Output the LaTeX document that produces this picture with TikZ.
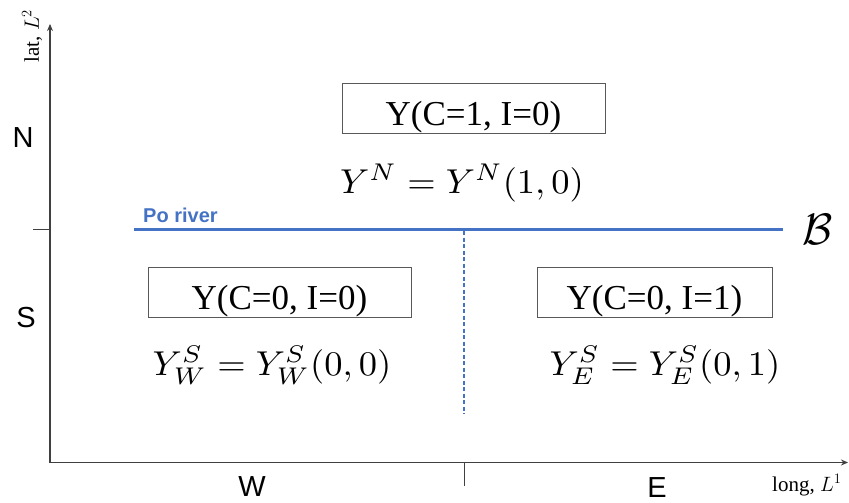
\documentclass[tikz,border=0pt]{standalone}
\usepackage{fontspec}
\newfontfamily\timesf{Liberation Serif}
\newfontfamily\arialf{Liberation Sans}
\usetikzlibrary{arrows.meta}
\definecolor{riverblue}{HTML}{4472C4}
\definecolor{axisgray}{HTML}{404040}
\definecolor{boxgray}{HTML}{595959}
\newcommand{\bigmath}[1]{\scalebox{3.65}[3.45]{$#1$}}
\begin{document}
\begin{tikzpicture}[x=1pt,y=-1pt,
  axis/.style={draw=axisgray, line width=1.3pt},
  axarrow/.style={-{Stealth[length=7pt,width=6pt]}},
  boxnode/.style={draw=boxgray, line width=0.9pt, inner xsep=0pt, inner ysep=0pt,
     text height=42pt, text depth=8pt, minimum width=#1,
     font=\timesf\fontsize{35}{40}\selectfont},
  mathlbl/.style={anchor=base, inner sep=0pt},
  dirlbl/.style={inner sep=0pt, font=\arialf\fontsize{29}{32}\selectfont},
  axlbl/.style={inner sep=0pt, font=\timesf\fontsize{21}{24}\selectfont},
  river/.style={draw=riverblue, line width=3pt},
  border/.style={draw=riverblue, line width=1.8pt, dash pattern=on 4pt off 2.5pt}]
\useasboundingbox (0,0) rectangle (849,503);
% axes
\coordinate (O) at (50,462.5);
\coordinate (ytop) at (50,24);
\coordinate (xend) at (848,462.5);
\draw[axis,axarrow] (O) -- (ytop);
\draw[axis,axarrow] (O) -- (xend);
% ticks
\coordinate (ytick1) at (50,229);
\coordinate (ytick2) at (33,229);
\coordinate (xtick1) at (464,462.5);
\coordinate (xtick2) at (464,486);
\draw[axis, line width=1pt] (ytick1) -- (ytick2);
\draw[axis, line width=1pt] (xtick1) -- (xtick2);
% river and border
\coordinate (r1) at (134,229);
\coordinate (r2) at (783,229);
\draw[river] (r1) -- (r2);
\coordinate (d1) at (464,231);
\coordinate (d2) at (464,414);
\draw[border] (d1) -- (d2);
% axis labels
\node[axlbl, rotate=90] (lat) at (32,36) {lat, $L^2$};
\node[axlbl, anchor=base west] (long) at (772,491.5) {long, $L^1$};
\node[dirlbl] (N) at (23,138) {N};
\node[dirlbl] (S) at (26,318) {S};
\node[dirlbl] (W) at (252,487) {W};
\node[dirlbl] (E) at (657,487.5) {E};
\node[anchor=base west, inner sep=0pt, text=riverblue, font=\arialf\bfseries\fontsize{20}{24}\selectfont] (po) at (143,222.7) {Po river};
\node[inner sep=0pt] (B) at (818,229) {\scalebox{4.4}{$\mathcal{B}$}};
% boxes
\node[boxnode=263pt] (b1) at (473.5,108.5) {Y(C=1, I=0)};
\node[boxnode=263pt] (b2) at (279.5,292) {Y(C=0, I=0)};
\node[boxnode=235pt] (b3) at (654.5,292) {Y(C=0, I=1)};
% formulas
\node[mathlbl] (m1) at (462,193) {\bigmath{Y^N = Y^N(1,0)}};
\node[mathlbl] (m2) at (272,375) {\bigmath{Y^S_W = Y^S_W(0,0)}};
\node[mathlbl] (m3) at (665,375) {\bigmath{Y^S_E = Y^S_E(0,1)}};
\end{tikzpicture}
\end{document}
